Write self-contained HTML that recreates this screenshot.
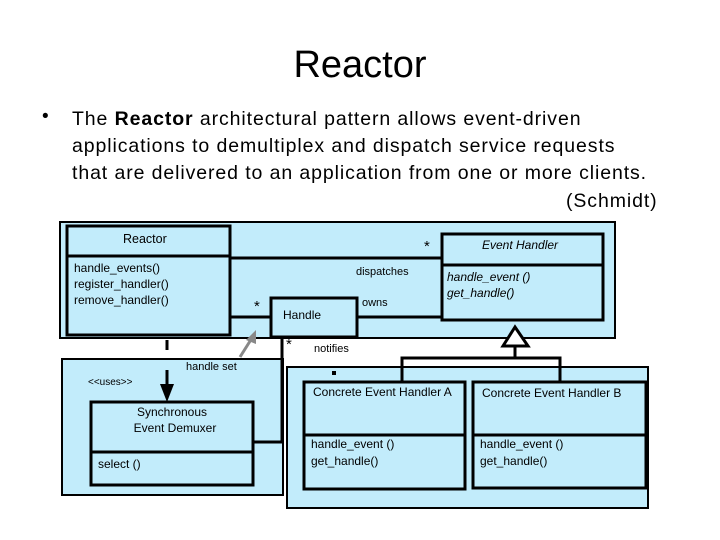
<!DOCTYPE html>
<html><head><meta charset="utf-8"><style>
html,body{margin:0;padding:0;background:#fff;width:720px;height:540px;overflow:hidden;font-family:"Liberation Sans",sans-serif}
.t{position:absolute;white-space:nowrap;color:#000}
</style></head><body>
<div class="t" style="left:0;width:720px;text-align:center;top:44px;font-size:38px">Reactor</div>
<div class="t" style="left:42px;top:106px;font-size:19px">•</div>
<div class="t" style="left:72px;top:106px;font-size:19.5px;line-height:27px;letter-spacing:0.9px">The <b>Reactor</b> architectural pattern allows event-driven<br>applications to demultiplex and dispatch service requests<br>that are delivered to an application from one or more clients.</div>
<div class="t" style="left:566px;top:190px;font-size:19.5px;letter-spacing:0.9px">(Schmidt)</div>
<svg width="720" height="540" style="position:absolute;left:0;top:0" font-family="Liberation Sans, sans-serif" font-size="12">
<g stroke="#000" stroke-width="3" fill="#c2ecfb">
<rect x="60" y="222" width="555" height="116" stroke-width="2"/>
<rect x="62" y="359" width="221" height="136" stroke-width="2"/>
<rect x="287" y="367" width="361" height="141" stroke-width="2"/>
<rect x="67" y="226" width="163" height="109"/>
<rect x="442" y="234" width="161" height="86"/>
<rect x="271" y="298" width="86" height="39"/>
<rect x="91" y="402" width="162" height="83"/>
<rect x="304" y="382" width="161" height="107"/>
<rect x="473" y="382" width="173" height="106"/>
</g>
<g stroke="#000" stroke-width="3" fill="none">
<line x1="67" y1="256" x2="230" y2="256"/>
<line x1="442" y1="265" x2="603" y2="265"/>
<line x1="91" y1="452" x2="253" y2="452"/>
<line x1="304" y1="435" x2="465" y2="435"/>
<line x1="473" y1="435" x2="646" y2="435"/>
<line x1="230" y1="258" x2="442" y2="258"/>
<line x1="230" y1="317" x2="271" y2="317"/>
<line x1="357" y1="317" x2="442" y2="317"/>
<polyline points="282,337 282,442 253,442"/>
<polyline points="402,382 402,358 560,358 560,382"/>
<line x1="515" y1="346" x2="515" y2="358"/>
<polygon points="515,327 503,346 528,346" fill="#fff"/>
<line x1="167" y1="340" x2="167" y2="350"/>
<line x1="167" y1="370" x2="167" y2="395"/>
</g>
<polygon points="160,384 174,384 167,402" fill="#000"/>
<line x1="240" y1="357" x2="252" y2="338" stroke="#888" stroke-width="3"/>
<polygon points="256,330 246,340 256,344" fill="#888"/>
<rect x="332" y="371" width="4" height="4" fill="#000"/>
<g fill="#000">
<text x="123" y="243" font-size="12.5">Reactor</text>
<text x="74" y="272" font-size="12">handle_events()</text>
<text x="74" y="288" font-size="12">register_handler()</text>
<text x="74" y="304" font-size="12">remove_handler()</text>
<text x="482" y="249" font-style="italic">Event Handler</text>
<text x="447" y="281" font-style="italic">handle_event ()</text>
<text x="447" y="297" font-style="italic">get_handle()</text>
<text x="283" y="319">Handle</text>
<text x="356" y="275" font-size="11">dispatches</text>
<text x="362" y="306" font-size="11">owns</text>
<text x="314" y="352" font-size="11">notifies</text>
<text x="186" y="370" font-size="11">handle set</text>
<text x="88" y="385" font-size="10">&lt;&lt;uses&gt;&gt;</text>
<text x="424" y="251" font-size="15">*</text>
<text x="254" y="311" font-size="15">*</text>
<text x="286" y="349" font-size="15">*</text>
<text x="172" y="416" text-anchor="middle">Synchronous</text>
<text x="175" y="432" text-anchor="middle">Event Demuxer</text>
<text x="98" y="468">select ()</text>
<text x="313" y="396">Concrete Event Handler A</text>
<text x="482" y="397">Concrete Event Handler B</text>
<text x="311" y="448">handle_event ()</text>
<text x="311" y="465">get_handle()</text>
<text x="480" y="448">handle_event ()</text>
<text x="480" y="465">get_handle()</text>
</g>
</svg>
</body></html>
